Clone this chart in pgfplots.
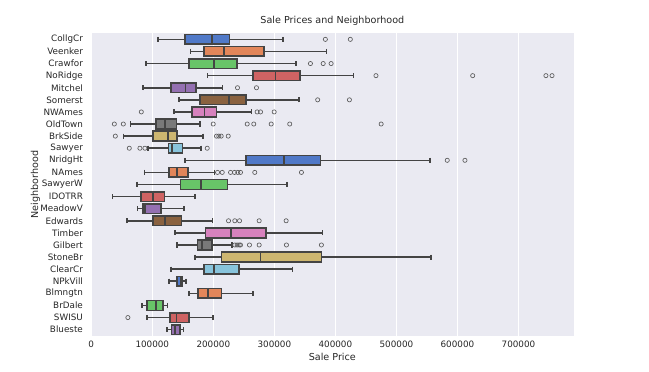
\documentclass[border=0pt]{standalone}
\usepackage{fontspec}
\setmainfont{DejaVu Sans}
\usepackage{pgfplots}
\pgfplotsset{compat=1.18}
\usepgfplotslibrary{statistics}
\definecolor{bg}{HTML}{EAEAF2}
\definecolor{edge}{HTML}{444444}
\definecolor{txt}{HTML}{262626}
\definecolor{outl}{HTML}{5A5A5A}
\definecolor{c0}{HTML}{5079C8}
\definecolor{c1}{HTML}{E2865A}
\definecolor{c2}{HTML}{68C468}
\definecolor{c3}{HTML}{CF6363}
\definecolor{c4}{HTML}{9470B1}
\definecolor{c5}{HTML}{8A6240}
\definecolor{c6}{HTML}{D782BD}
\definecolor{c7}{HTML}{797979}
\definecolor{c8}{HTML}{CDB670}
\definecolor{c9}{HTML}{88C4DC}
\pgfplotsset{
  bx/.style={fill=#1, draw=edge, line width=1.6pt, mark=o,
    mark options={draw=outl, fill=none, solid, line width=0.65pt}, mark size=2.1pt},
  boxplot/every whisker/.style={draw=edge, line width=1.6pt},
  boxplot/every median/.style={draw=edge, line width=1.6pt},
  boxplot/every box/.style={draw=edge, line width=1.6pt},
}
\begin{document}
\begin{tikzpicture}
\begin{axis}[
  scale only axis, width=483.4pt, height=302.4pt,
  axis background/.style={fill=bg},
  axis line style={draw=none},
  xmin=-1105, xmax=791005,
  ymin=-0.5, ymax=24.5, y dir=reverse,
  ytick={0,...,24},
  yticklabels={CollgCr,Veenker,Crawfor,NoRidge,Mitchel,Somerst,NWAmes,OldTown,BrkSide,Sawyer,NridgHt,NAmes,SawyerW,IDOTRR,MeadowV,Edwards,Timber,Gilbert,StoneBr,ClearCr,NPkVill,Blmngtn,BrDale,SWISU,Blueste},
  xtick={0,100000,...,700000},
  scaled x ticks=false,
  major tick length=0pt,
  xmajorgrids, ymajorgrids=false,
  grid style={white, line width=0.9pt},
  /pgf/number format/assume math mode=true,
  /pgf/number format/fixed,
  /pgf/number format/1000 sep={},
  xticklabel style={font=\fontsize{8.8}{10}\selectfont, text=txt, anchor=north, inner sep=0pt, yshift=-5.5pt},
  yticklabel style={font=\fontsize{8.8}{10}\selectfont, text=txt, anchor=east, inner sep=0pt, xshift=-7.5pt},
  title={Sale Prices and Neighborhood},
  title style={font=\fontsize{9.6}{11}\selectfont, text=txt, at={(axis description cs:0.5,1)}, anchor=south, inner sep=0pt, yshift=1.8pt},
  xlabel={Sale Price},
  xlabel style={font=\fontsize{9.6}{11}\selectfont, text=txt, at={(axis description cs:0.5,0)}, anchor=north, inner sep=0pt, yshift=-17.8pt},
  ylabel={Neighborhood},
  ylabel style={font=\fontsize{9.6}{11}\selectfont, text=txt, at={(axis description cs:-0.1239,0.5)}, anchor=north, inner sep=0pt},
  boxplot/draw direction=x,
  boxplot/box extend=0.8,
  boxplot/whisker extend=0.42,
  clip=false,
]
\addplot[bx=c0, boxplot prepared={draw position=0, lower whisker=109200, lower quartile=153400, median=197600, upper quartile=226500, upper whisker=313800}] table[row sep=\\, y index=0] {v\\ 383600\\ 424500\\};
\addplot[bx=c1, boxplot prepared={draw position=1, lower whisker=162700, lower quartile=184500, median=217800, upper quartile=282700, upper whisker=385300}] coordinates {};
\addplot[bx=c2, boxplot prepared={draw position=2, lower whisker=90100, lower quartile=160000, median=200900, upper quartile=239100, upper whisker=335100}] table[row sep=\\, y index=0] {v\\ 359100\\ 380000\\ 393000\\};
\addplot[bx=c3, boxplot prepared={draw position=3, lower whisker=190500, lower quartile=264700, median=301800, upper quartile=341600, upper whisker=430000}] table[row sep=\\, y index=0] {v\\ 466500\\ 625000\\ 745000\\ 755000\\};
\addplot[bx=c4, boxplot prepared={draw position=4, lower whisker=85200, lower quartile=130500, median=154500, upper quartile=172000, upper whisker=215000}] table[row sep=\\, y index=0] {v\\ 239600\\ 270700\\};
\addplot[bx=c5, boxplot prepared={draw position=5, lower whisker=144200, lower quartile=177900, median=226000, upper quartile=253200, upper whisker=340000}] table[row sep=\\, y index=0] {v\\ 371000\\ 423000\\};
\addplot[bx=c6, boxplot prepared={draw position=6, lower whisker=135400, lower quartile=165500, median=185600, upper quartile=205200, upper whisker=262500}] table[row sep=\\, y index=0] {v\\ 82000\\ 271800\\ 277300\\ 299700\\};
\addplot[bx=c7, boxplot prepared={draw position=7, lower whisker=64500, lower quartile=106500, median=120600, upper quartile=139800, upper whisker=177900}] table[row sep=\\, y index=0] {v\\ 37800\\ 52500\\ 199800\\ 255500\\ 266300\\ 294800\\ 325200\\ 475000\\};
\addplot[bx=c8, boxplot prepared={draw position=8, lower whisker=52500, lower quartile=101000, median=125500, upper quartile=140900, upper whisker=183500}] table[row sep=\\, y index=0] {v\\ 39400\\ 205200\\ 209000\\ 212900\\ 224400\\};
\addplot[bx=c9, boxplot prepared={draw position=9, lower whisker=93400, lower quartile=126700, median=132700, upper quartile=149600, upper whisker=180200}] table[row sep=\\, y index=0] {v\\ 62300\\ 79700\\ 87900\\ 190000\\};
\addplot[bx=c0, boxplot prepared={draw position=10, lower whisker=153400, lower quartile=253200, median=315400, upper quartile=375500, upper whisker=555500}] table[row sep=\\, y index=0] {v\\ 583300\\ 612300\\};
\addplot[bx=c1, boxplot prepared={draw position=11, lower whisker=87400, lower quartile=127200, median=140900, upper quartile=158300, upper whisker=202000}] table[row sep=\\, y index=0] {v\\ 206900\\ 214600\\ 228200\\ 234700\\ 240100\\ 244500\\ 267900\\ 344400\\};
\addplot[bx=c2, boxplot prepared={draw position=12, lower whisker=75400, lower quartile=146300, median=179500, upper quartile=223200, upper whisker=320300}] coordinates {};
\addplot[bx=c3, boxplot prepared={draw position=13, lower whisker=34500, lower quartile=81300, median=101600, upper quartile=120100, upper whisker=169700}] coordinates {};
\addplot[bx=c4, boxplot prepared={draw position=14, lower whisker=75900, lower quartile=84600, median=87900, upper quartile=114700, upper whisker=151700}] coordinates {};
\addplot[bx=c5, boxplot prepared={draw position=15, lower whisker=58400, lower quartile=101600, median=121300, upper quartile=147900, upper whisker=198700}] table[row sep=\\, y index=0] {v\\ 224900\\ 235200\\ 242900\\ 275100\\ 319300\\};
\addplot[bx=c6, boxplot prepared={draw position=16, lower whisker=137600, lower quartile=187200, median=228600, upper quartile=286600, upper whisker=379200}] coordinates {};
\addplot[bx=c7, boxplot prepared={draw position=17, lower whisker=140300, lower quartile=174100, median=181200, upper quartile=198200, upper whisker=230300}] table[row sep=\\, y index=0] {v\\ 235200\\ 239100\\ 242400\\ 244500\\ 259200\\ 275100\\ 319800\\ 377100\\};
\addplot[bx=c8, boxplot prepared={draw position=18, lower whisker=169700, lower quartile=213400, median=277300, upper quartile=377100, upper whisker=556600}] coordinates {};
\addplot[bx=c9, boxplot prepared={draw position=19, lower whisker=130700, lower quartile=184500, median=200900, upper quartile=242400, upper whisker=329600}] coordinates {};
\addplot[bx=c0, boxplot prepared={draw position=20, lower whisker=127500, lower quartile=140000, median=146000, upper quartile=148500, upper whisker=155000}] coordinates {};
\addplot[bx=c1, boxplot prepared={draw position=21, lower whisker=159900, lower quartile=175200, median=191000, upper quartile=213400, upper whisker=264600}] coordinates {};
\addplot[bx=c2, boxplot prepared={draw position=22, lower whisker=83000, lower quartile=91800, median=106000, upper quartile=118000, upper whisker=125000}] coordinates {};
\addplot[bx=c3, boxplot prepared={draw position=23, lower whisker=91800, lower quartile=128800, median=139500, upper quartile=160600, upper whisker=199800}] table[row sep=\\, y index=0] {v\\ 60000\\};
\addplot[bx=c4, boxplot prepared={draw position=24, lower whisker=124000, lower quartile=131600, median=137500, upper quartile=145200, upper whisker=151000}] coordinates {};
\path (axis description cs:0,0) ++(-90.6pt,-36.3pt) coordinate (bl);
\path (axis description cs:0,0) ++(558.4pt,335.7pt) coordinate (tr);
\end{axis}
\path[use as bounding box] (bl) rectangle (tr);
\end{tikzpicture}
\end{document}
